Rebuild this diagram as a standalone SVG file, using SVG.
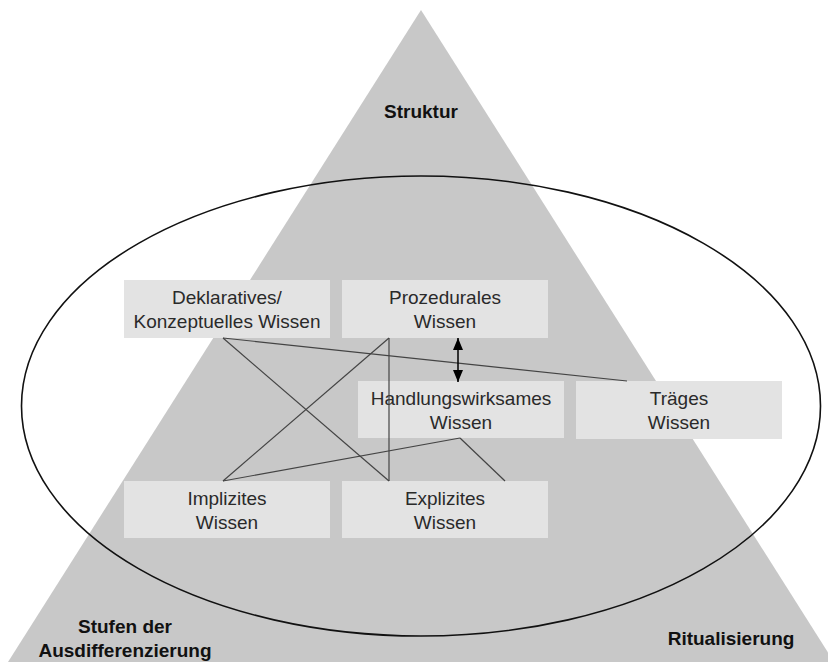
<svg xmlns="http://www.w3.org/2000/svg" width="828" height="662" viewBox="0 0 828 662">
<defs>
<style>
.box{fill:#e3e3e3;}
.t{font-family:"Liberation Sans",Arial,sans-serif;font-size:19px;fill:#2a2a2a;text-anchor:middle;}
.b{font-family:"Liberation Sans",Arial,sans-serif;font-size:19px;font-weight:bold;fill:#111;text-anchor:middle;}
.c{stroke:#444;stroke-width:1.2;fill:none;}
</style>
<marker id="ah" viewBox="0 0 12 10" refX="12" refY="5" markerWidth="12" markerHeight="10" markerUnits="userSpaceOnUse" orient="auto-start-reverse">
<path d="M0,0 L12,5 L0,10 z" fill="#000"/>
</marker>
</defs>
<rect width="828" height="662" fill="#fff"/>
<polygon id="triangle" points="421,10 8,662 834,662" fill="#c8c8c8"/>
<ellipse id="ellipse" cx="421" cy="406" rx="399.5" ry="230" fill="none" stroke="#111" stroke-width="1.6"/>
<text class="b" x="421" y="118">Struktur</text>
<text class="b" x="125" y="633">Stufen der</text>
<text class="b" x="125" y="657">Ausdifferenzierung</text>
<text class="b" x="731" y="645">Ritualisierung</text>
<g id="n-deklarativ"><rect class="box" x="124" y="280" width="206" height="58"/><text class="t" x="227" y="304">Deklaratives/</text><text class="t" x="227" y="328">Konzeptuelles Wissen</text></g>
<g id="n-prozedural"><rect class="box" x="342" y="280" width="206" height="58"/><text class="t" x="445" y="304">Prozedurales</text><text class="t" x="445" y="328">Wissen</text></g>
<g id="n-handlung"><rect class="box" x="358" y="381" width="206" height="57"/><text class="t" x="461" y="405">Handlungswirksames</text><text class="t" x="461" y="429">Wissen</text></g>
<g id="n-traege"><rect class="box" x="576" y="381" width="206" height="58"/><text class="t" x="679" y="405">Träges</text><text class="t" x="679" y="429">Wissen</text></g>
<g id="n-implizit"><rect class="box" x="124" y="481" width="206" height="57"/><text class="t" x="227" y="505">Implizites</text><text class="t" x="227" y="529">Wissen</text></g>
<g id="n-explizit"><rect class="box" x="342" y="481" width="206" height="57"/><text class="t" x="445" y="505">Explizites</text><text class="t" x="445" y="529">Wissen</text></g>
<g id="connectors">
<line class="c" x1="223" y1="338" x2="627" y2="381"/>
<line class="c" x1="223" y1="338" x2="389" y2="481"/>
<line class="c" x1="389" y1="338" x2="223" y2="481"/>
<line class="c" x1="389" y1="338" x2="389" y2="481"/>
<line class="c" x1="223" y1="481" x2="460" y2="438"/>
<line class="c" x1="460" y1="438" x2="505" y2="481"/>
<line x1="458" y1="338" x2="458" y2="382" stroke="#000" stroke-width="1.5" marker-start="url(#ah)" marker-end="url(#ah)"/>
</g>
</svg>
